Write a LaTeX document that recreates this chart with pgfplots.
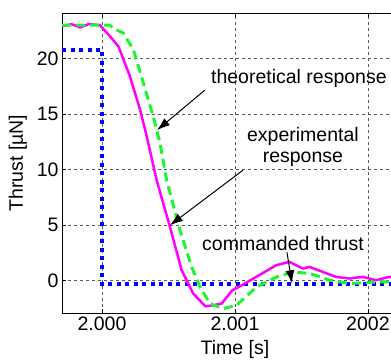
\documentclass[border=0pt]{standalone}
\usepackage{pgfplots}
\pgfplotsset{compat=1.18}
\usepackage{fontspec}
\setmainfont{Liberation Sans}
\usetikzlibrary{arrows.meta}

\definecolor{cmdblue}{RGB}{0,0,255}
\definecolor{expmag}{RGB}{255,0,255}
\definecolor{theogreen}{RGB}{30,245,50}

% time axis in ms after t = 2.000 s
\pgfplotstableread{
t      f
-0.30  22.9
-0.23  23.1
-0.165 22.8
-0.10  23.1
-0.015 23.0
0.06   22.0
0.123  21.1
0.21   18.4
0.286  15.4
0.336  13.0
0.411  9.05
0.511  4.85
0.599  0.95
0.686  -1.15
0.777  -2.3
0.84   -2.2
0.90   -2.05
0.98   -0.85
1.03   -0.55
1.16   0.35
1.31   1.4
1.41   1.7
1.51   1.1
1.56   1.25
1.66   0.8
1.76   0.35
1.86   0.2
1.96   0.35
2.06   0.05
2.16   0.35
2.25   0.2
}\experimental

\pgfplotstableread{
t      f
-0.30  23.0
0.06   23.0
0.086  22.7
0.16   22.3
0.236  20.8
0.311  17.8
0.386  14.75
0.436  12.4
0.486  9.05
0.586  4.55
0.674  1.25
0.737  -0.55
0.812  -2.05
0.912  -2.5
1.012  -2.2
1.163  -0.55
1.314  0.35
1.438  0.8
1.564  0.65
1.714  0.05
1.865  -0.25
2.065  -0.1
2.25   -0.1
}\theoretical

\pgfplotstableread{
t      f
-0.30  20.8
0.0    20.8
0.0    -0.3
2.30   -0.3
}\commanded

\begin{document}
\begin{tikzpicture}[font=\fontsize{19.5}{23}\selectfont]
\begin{axis}[
  at={(62pt,49pt)}, anchor=south west,
  scale only axis,
  width=345.8pt, height=300pt,
  xmin=-0.301, xmax=2.30,
  ymin=-2.9, ymax=24.1,
  xtick={0,1,2},
  xticklabels={2.000,2.001,2002},
  ytick={0,5,10,15,20},
  /pgf/number format/assume math mode=true,
  tick label style={font=\fontsize{19.5}{23}\selectfont},
  label style={font=\fontsize{19.5}{23}\selectfont},
  xlabel={Time [s]},
  ylabel={Thrust [\textmu N]},
  xlabel style={yshift=-3pt},
  ylabel style={yshift=3pt},
  grid=major,
  major grid style={black!65, dash pattern=on 3pt off 3pt, line width=0.7pt},
  tick align=inside,
  major tick length=4pt,
  axis line style={line width=1pt},
  tick style={black, line width=0.7pt},
]
\addplot[cmdblue, line width=4pt, line cap=butt, dash pattern=on 4pt off 4.5pt]
  table[x=t,y=f] {\commanded};
\addplot[expmag, line width=2.5pt, line join=round]
  table[x=t,y=f] {\experimental};
\addplot[theogreen, line width=3pt, dash pattern=on 9pt off 5pt, line join=round]
  table[x=t,y=f] {\theoretical};

\node at (axis cs:1.481,18.24) {theoretical response};
\node[align=center, inner sep=0pt] at (axis cs:1.511,12.07) {experimental\\[-2pt]response};
\node at (axis cs:1.361,3.38) {commanded thrust};

\draw[-{Latex[length=13pt,width=9pt]}, line width=1pt] (axis cs:0.774,17.16) -- (axis cs:0.414,13.56);
\draw[-{Latex[length=13pt,width=9pt]}, line width=1pt] (axis cs:1.060,9.95) -- (axis cs:0.511,5.0);
\draw[-{Latex[length=13pt,width=9pt]}, line width=1pt] (axis cs:1.391,2.57) -- (axis cs:1.429,-0.23);
\end{axis}
\pgfresetboundingbox
\useasboundingbox (0pt,0pt) rectangle (391pt,362pt);
\end{tikzpicture}
\end{document}
